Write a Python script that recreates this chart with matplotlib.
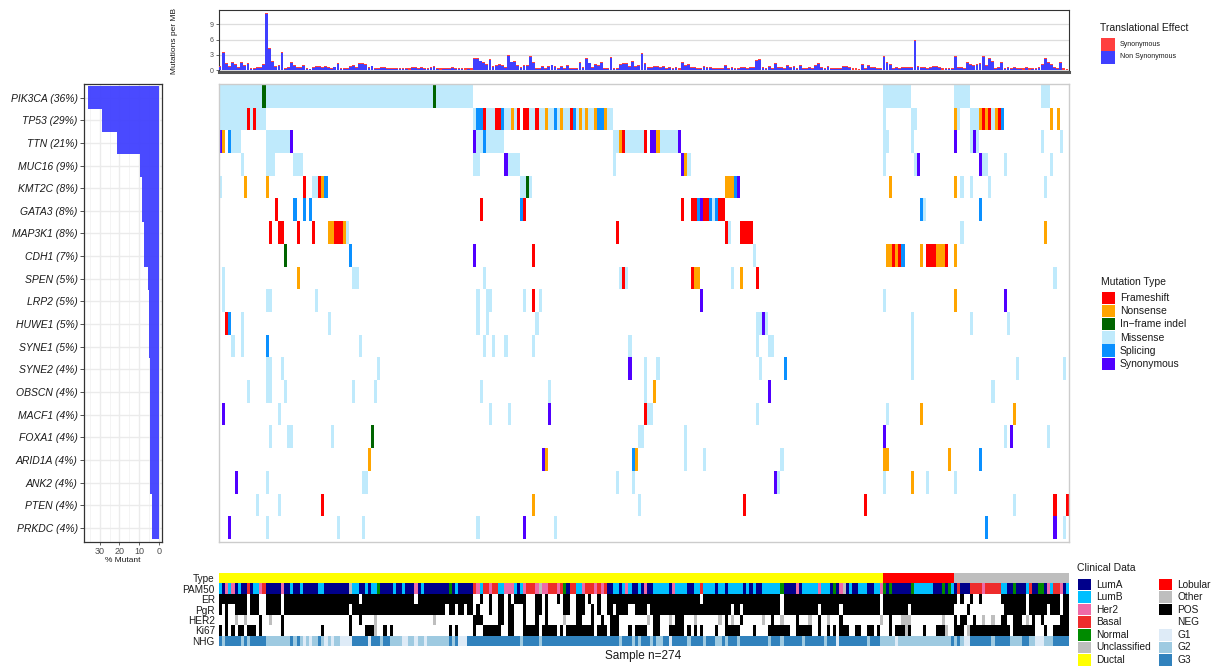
import numpy as np
import matplotlib
matplotlib.use("Agg")
import matplotlib.pyplot as plt
from matplotlib.patches import Rectangle
from matplotlib.colors import to_rgb

plt.rcParams['font.family'] = ['Liberation Sans', 'DejaVu Sans']

W, H = 1220, 668
NS = 274

#----------------------------------------------------------------------------
# gene panel
genes = ["PIK3CA", "TP53", "TTN", "MUC16", "KMT2C", "GATA3", "MAP3K1", "CDH1",
         "SPEN", "LRP2", "HUWE1", "SYNE1", "SYNE2", "OBSCN", "MACF1", "FOXA1",
         "ARID1A", "ANK2", "PTEN", "PRKDC"]
gene_pct_label = [36, 29, 21, 9, 8, 8, 8, 7, 5, 5, 5, 5, 4, 4, 4, 4, 4, 4, 4, 4]
gene_pct = [36.0, 29.0, 21.0, 9.6, 8.6, 8.6, 7.7, 7.6, 5.6, 5.2, 5.1, 5.1,
            4.6, 4.6, 4.6, 4.6, 4.6, 4.6, 3.7, 3.7]

mut_types = ["Frameshift", "Nonsense", "In-frame indel", "Missense", "Splicing", "Synonymous"]
mut_codes = ["F", "N", "I", "M", "S", "Y"]
mut_colors = ["#FF0000", "#FFA500", "#006400", "#BFEAFC", "#0A90FF", "#5000FF"]

# (first sample, last sample, type code)
mutations = {
    "PIK3CA": [(0, 81, "M"), (14, 14, "I"), (69, 69, "I"), (214, 222, "M"), (237, 241, "M"), (265, 267, "M")],
    "TP53": [(0, 14, "M"), (9, 9, "F"), (11, 11, "F"), (82, 82, "M"), (83, 84, "S"), (85, 85, "F"),
             (86, 88, "M"), (89, 90, "F"), (91, 91, "S"), (92, 93, "M"), (94, 94, "N"), (95, 95, "M"),
             (96, 96, "F"), (98, 99, "F"), (100, 101, "M"), (102, 102, "F"), (103, 104, "M"),
             (105, 105, "N"), (106, 107, "M"), (108, 108, "S"), (109, 109, "M"), (110, 110, "N"),
             (111, 112, "M"), (113, 113, "F"), (114, 114, "S"), (115, 115, "M"), (116, 116, "N"),
             (117, 117, "M"), (118, 118, "N"), (119, 120, "M"), (121, 121, "N"), (122, 123, "S"),
             (124, 124, "N"), (125, 126, "M"), (214, 214, "M"), (223, 224, "M"), (237, 237, "N"),
             (238, 238, "M"), (242, 244, "M"), (245, 245, "N"), (246, 246, "F"), (247, 247, "N"),
             (248, 248, "F"), (249, 249, "M"), (250, 250, "N"), (251, 251, "F"), (252, 252, "S"),
             (268, 268, "N"), (270, 270, "N")],
    "TTN": [(0, 0, "Y"), (1, 1, "N"), (3, 3, "S"), (4, 6, "M"), (15, 22, "M"), (23, 23, "Y"),
            (82, 82, "Y"), (83, 84, "M"), (85, 85, "S"), (86, 91, "M"), (127, 128, "M"), (129, 129, "N"),
            (130, 130, "F"), (131, 136, "M"), (137, 137, "F"), (139, 140, "Y"), (141, 141, "N"),
            (142, 147, "M"), (148, 148, "Y"), (214, 215, "M"), (223, 223, "M"), (237, 237, "Y"),
            (242, 242, "M"), (243, 243, "Y"), (244, 244, "M"), (265, 265, "M"), (271, 271, "M")],
    "MUC16": [(7, 7, "M"), (15, 17, "M"), (24, 26, "M"), (82, 83, "M"), (92, 92, "Y"), (93, 96, "M"),
              (127, 127, "M"), (149, 149, "Y"), (150, 150, "N"), (151, 151, "M"), (214, 214, "M"),
              (224, 224, "M"), (225, 225, "Y"), (245, 245, "Y"), (246, 247, "M"), (253, 253, "M"),
              (268, 268, "M")],
    "KMT2C": [(0, 0, "M"), (8, 8, "N"), (15, 15, "N"), (27, 27, "F"), (30, 31, "M"), (32, 32, "F"),
              (33, 33, "N"), (34, 34, "S"), (97, 98, "M"), (99, 99, "I"), (100, 100, "M"),
              (163, 165, "N"), (166, 166, "S"), (167, 167, "Y"), (216, 216, "N"), (237, 237, "N"),
              (239, 239, "M"), (242, 242, "M"), (248, 248, "M"), (266, 266, "M")],
    "GATA3": [(18, 18, "F"), (24, 24, "S"), (27, 27, "S"), (29, 29, "S"), (84, 84, "F"), (97, 97, "S"),
              (98, 98, "F"), (149, 149, "F"), (152, 153, "F"), (154, 154, "S"), (155, 155, "Y"),
              (156, 157, "F"), (158, 158, "S"), (159, 159, "M"), (160, 160, "S"), (161, 162, "F"),
              (226, 226, "S"), (227, 227, "M"), (245, 245, "S")],
    "MAP3K1": [(16, 16, "F"), (19, 20, "F"), (25, 25, "F"), (30, 30, "F"), (35, 36, "N"), (37, 39, "F"),
               (40, 40, "N"), (41, 41, "M"), (128, 128, "F"), (163, 163, "F"), (164, 164, "M"),
               (168, 171, "F"), (239, 239, "M"), (266, 266, "N")],
    "CDH1": [(21, 21, "I"), (42, 42, "S"), (82, 82, "Y"), (101, 101, "F"), (172, 172, "M"),
             (215, 216, "N"), (217, 217, "F"), (218, 218, "N"), (219, 219, "F"), (220, 220, "S"),
             (226, 226, "N"), (228, 230, "F"), (231, 233, "N"), (234, 234, "F"), (237, 237, "N")],
    "SPEN": [(1, 1, "M"), (25, 25, "N"), (43, 44, "M"), (85, 85, "M"), (129, 129, "M"), (130, 130, "F"),
             (131, 131, "M"), (152, 152, "F"), (153, 154, "N"), (165, 165, "M"), (168, 168, "N"),
             (173, 173, "F"), (269, 269, "M")],
    "LRP2": [(1, 1, "M"), (15, 16, "M"), (31, 31, "M"), (83, 83, "M"), (86, 87, "M"), (98, 98, "M"),
             (101, 101, "F"), (103, 103, "M"), (155, 155, "Y"), (214, 214, "M"), (237, 237, "N"),
             (253, 253, "Y")],
    "HUWE1": [(2, 2, "F"), (3, 3, "S"), (7, 7, "M"), (35, 35, "M"), (83, 83, "M"), (86, 86, "M"),
              (102, 102, "M"), (173, 174, "M"), (175, 175, "Y"), (176, 176, "M"), (223, 223, "M"),
              (242, 242, "M"), (254, 254, "M")],
    "SYNE1": [(4, 4, "M"), (7, 7, "M"), (15, 15, "S"), (45, 45, "M"), (85, 85, "M"), (88, 88, "M"),
              (92, 92, "M"), (101, 101, "M"), (132, 132, "M"), (173, 173, "M"), (177, 178, "M"),
              (223, 223, "M")],
    "SYNE2": [(15, 16, "M"), (20, 20, "M"), (51, 51, "M"), (132, 132, "Y"), (137, 137, "M"),
              (141, 141, "M"), (174, 174, "M"), (182, 182, "S"), (223, 223, "M"), (257, 257, "M"),
              (272, 272, "M")],
    "OBSCN": [(9, 9, "M"), (15, 16, "M"), (21, 21, "M"), (43, 43, "M"), (50, 50, "M"), (84, 84, "M"),
              (106, 106, "M"), (137, 137, "M"), (140, 140, "N"), (177, 177, "Y"), (249, 249, "M")],
    "MACF1": [(1, 1, "Y"), (19, 19, "M"), (87, 87, "M"), (93, 93, "M"), (106, 106, "Y"), (137, 137, "F"),
              (138, 139, "M"), (173, 173, "M"), (215, 215, "M"), (226, 226, "N"), (256, 256, "N")],
    "FOXA1": [(16, 16, "M"), (22, 23, "M"), (36, 36, "M"), (49, 49, "I"), (135, 136, "M"),
              (150, 150, "M"), (214, 214, "Y"), (253, 253, "M"), (255, 255, "Y"), (267, 267, "M")],
    "ARID1A": [(48, 48, "N"), (104, 104, "Y"), (105, 105, "N"), (133, 133, "S"), (134, 134, "N"),
               (150, 150, "M"), (156, 156, "M"), (181, 181, "M"), (214, 215, "N"), (235, 235, "N"),
               (245, 245, "S")],
    "ANK2": [(5, 5, "Y"), (15, 15, "M"), (46, 47, "M"), (128, 128, "M"), (133, 133, "M"),
             (179, 179, "Y"), (180, 180, "M"), (214, 214, "M"), (223, 223, "N"), (228, 228, "M"),
             (237, 237, "M")],
    "PTEN": [(12, 12, "M"), (19, 19, "M"), (33, 33, "F"), (101, 101, "N"), (135, 135, "M"),
             (169, 169, "F"), (208, 208, "F"), (256, 256, "M"), (269, 269, "F"), (273, 273, "F")],
    "PRKDC": [(3, 3, "Y"), (15, 15, "M"), (38, 38, "M"), (46, 46, "M"), (83, 83, "M"), (98, 98, "Y"),
              (108, 108, "M"), (247, 247, "S"), (269, 269, "Y"), (272, 272, "M")],
}

#----------------------------------------------------------------------------
# mutation burden per sample (mutations per MB)
nonsyn = [0.7, 3.3, 1.2, 0.7, 1.4, 1.0, 0.5, 1.4, 0.9, 1.2,
          0.2, 0.2, 0.4, 0.4, 1.0, 11.0, 4.1, 1.6, 0.7, 0.8,
          3.4, 0.3, 0.4, 1.4, 0.9, 0.4, 0.4, 0.8, 0.3, 0.2,
          0.4, 0.6, 0.6, 0.4, 0.6, 0.4, 0.3, 0.6, 1.2, 0.3,
          0.3, 0.3, 0.7, 0.8, 0.5, 1.2, 1.2, 1.0, 0.4, 0.8,
          0.3, 0.3, 0.5, 0.5, 0.3, 0.3, 0.3, 0.2, 0.2, 0.3,
          0.2, 0.1, 0.5, 0.5, 0.3, 0.5, 0.2, 0.2, 0.4, 0.6,
          0.2, 0.1, 0.3, 0.3, 0.2, 0.4, 0.3, 0.3, 0.2, 0.1,
          0.2, 0.1, 2.2, 2.2, 1.8, 1.4, 1.0, 2.0, 0.7, 0.9,
          1.0, 0.9, 0.5, 2.8, 1.6, 1.6, 0.9, 0.5, 0.9, 0.9,
          2.6, 1.4, 0.3, 0.3, 0.6, 0.3, 0.7, 1.0, 0.6, 0.3,
          0.7, 0.2, 0.9, 0.2, 0.2, 0.2, 1.4, 0.5, 2.1, 1.4,
          0.5, 1.0, 0.8, 1.4, 0.2, 0.2, 2.4, 0.2, 0.3, 1.1,
          1.2, 1.2, 0.6, 1.7, 0.6, 0.8, 3.1, 1.2, 0.5, 0.5,
          0.6, 0.6, 0.4, 0.6, 0.3, 0.5, 0.2, 0.5, 0.1, 1.4,
          0.8, 1.0, 0.4, 0.4, 0.3, 0.2, 0.7, 0.5, 0.4, 0.3,
          0.3, 0.2, 0.2, 0.8, 0.3, 0.5, 0.3, 0.2, 0.5, 0.4,
          0.3, 0.5, 0.4, 1.8, 2.0, 0.5, 0.2, 0.7, 0.3, 1.2,
          0.5, 0.5, 0.2, 0.8, 0.4, 0.6, 0.3, 0.8, 0.3, 0.2,
          0.4, 0.3, 0.8, 1.3, 0.4, 0.2, 0.6, 0.3, 0.2, 0.2,
          0.3, 0.6, 0.6, 0.5, 0.1, 0.1, 0.0, 1.1, 0.3, 0.9,
          0.4, 0.4, 0.2, 0.2, 2.6, 1.5, 1.1, 0.3, 0.5, 0.3,
          0.5, 0.5, 0.4, 0.4, 5.8, 0.7, 0.5, 0.4, 0.2, 0.5,
          0.6, 0.6, 0.4, 0.1, 0.3, 0.2, 0.2, 2.6, 0.4, 0.4,
          0.2, 1.4, 1.0, 0.8, 1.0, 1.3, 2.6, 0.8, 2.1, 1.6,
          0.3, 0.4, 1.5, 0.2, 0.4, 0.2, 0.5, 0.2, 0.2, 0.1,
          0.4, 0.1, 0.2, 0.3, 0.5, 1.0, 2.1, 1.4, 1.0, 0.4,
          0.3, 1.5, 0.1, 0.0]
syn = [0.2, 0.2, 0.2, 0.1, 0.2, 0.2, 0.2, 0.2, 0.1, 0.2,
       0.2, 0.2, 0.2, 0.2, 0.2, 0.2, 0.2, 0.2, 0.1, 0.2,
       0.2, 0.1, 0.2, 0.2, 0.2, 0.2, 0.2, 0.2, 0.2, 0.1,
       0.2, 0.2, 0.2, 0.2, 0.2, 0.2, 0.2, 0.1, 0.2, 0.2,
       0.2, 0.2, 0.1, 0.2, 0.2, 0.2, 0.2, 0.2, 0.2, 0.1,
       0.2, 0.2, 0.2, 0.2, 0.2, 0.2, 0.2, 0.3, 0.3, 0.2,
       0.3, 0.3, 0.2, 0.2, 0.2, 0.2, 0.3, 0.3, 0.2, 0.2,
       0.3, 0.3, 0.2, 0.2, 0.3, 0.2, 0.2, 0.2, 0.3, 0.3,
       0.3, 0.3, 0.2, 0.2, 0.1, 0.2, 0.2, 0.1, 0.2, 0.2,
       0.2, 0.2, 0.2, 0.2, 0.1, 0.2, 0.2, 0.2, 0.2, 0.1,
       0.2, 0.2, 0.2, 0.2, 0.2, 0.2, 0.2, 0.1, 0.2, 0.2,
       0.2, 0.3, 0.2, 0.3, 0.3, 0.2, 0.2, 0.2, 0.2, 0.1,
       0.2, 0.2, 0.2, 0.2, 0.3, 0.3, 0.2, 0.3, 0.2, 0.2,
       0.2, 0.2, 0.2, 0.2, 0.2, 0.2, 0.2, 0.2, 0.2, 0.2,
       0.2, 0.2, 0.2, 0.2, 0.2, 0.2, 0.3, 0.2, 0.3, 0.2,
       0.2, 0.2, 0.2, 0.2, 0.2, 0.3, 0.2, 0.2, 0.2, 0.2,
       0.2, 0.3, 0.3, 0.2, 0.2, 0.2, 0.2, 0.3, 0.2, 0.2,
       0.2, 0.2, 0.2, 0.2, 0.2, 0.2, 0.3, 0.2, 0.2, 0.2,
       0.2, 0.2, 0.3, 0.2, 0.2, 0.2, 0.2, 0.2, 0.2, 0.3,
       0.2, 0.2, 0.2, 0.2, 0.2, 0.3, 0.2, 0.2, 0.3, 0.3,
       0.2, 0.2, 0.2, 0.2, 0.3, 0.3, 0.3, 0.2, 0.2, 0.2,
       0.2, 0.2, 0.3, 0.3, 0.2, 0.2, 0.2, 0.2, 0.2, 0.2,
       0.2, 0.2, 0.2, 0.2, 0.2, 0.2, 0.2, 0.2, 0.3, 0.2,
       0.2, 0.2, 0.2, 0.3, 0.2, 0.3, 0.3, 0.2, 0.2, 0.2,
       0.3, 0.2, 0.2, 0.2, 0.2, 0.2, 0.2, 0.2, 0.2, 0.2,
       0.2, 0.2, 0.2, 0.3, 0.2, 0.3, 0.2, 0.3, 0.3, 0.3,
       0.2, 0.3, 0.3, 0.2, 0.2, 0.2, 0.2, 0.2, 0.2, 0.2,
       0.2, 0.2, 0.3, 0.3]

#----------------------------------------------------------------------------
# clinical tracks, run lengths in sample order
type_runs = [("Ductal", 214), ("Lobular", 23), ("Other", 37)]
pam50_runs = [
    ("LumB", 1), ("LumA", 1), ("Her2", 1), ("LumB", 1), ("Her2", 1), ("LumA", 1), ("LumB", 1), ("LumA", 2), ("Basal", 1), ("LumA", 1),
    ("LumB", 2), ("Her2", 1), ("Basal", 1), ("LumA", 5), ("Her2", 1), ("LumA", 2), ("LumB", 1), ("LumA", 2), ("LumB", 1), ("LumA", 5),
    ("LumB", 2), ("LumA", 8), ("Unclassified", 1), ("LumB", 2), ("LumA", 2), ("LumB", 1), ("LumA", 1), ("LumB", 2), ("Normal", 1), ("LumA", 4),
    ("LumB", 1), ("LumA", 2), ("LumB", 1), ("LumA", 3), ("Her2", 1), ("LumA", 1), ("LumB", 1), ("LumA", 8), ("Normal", 1), ("LumA", 1),
    ("LumB", 1), ("LumA", 5), ("Basal", 1), ("Her2", 1), ("LumB", 1), ("Basal", 2), ("Her2", 1), ("Basal", 2), ("LumB", 2), ("Her2", 3),
    ("LumB", 1), ("LumA", 1), ("LumB", 1), ("Her2", 1), ("Basal", 3), ("Her2", 1), ("Unclassified", 1), ("Her2", 2), ("Basal", 3), ("Her2", 1),
    ("Basal", 1), ("Normal", 1), ("LumA", 1), ("Basal", 2), ("LumB", 2), ("Her2", 1), ("Basal", 3), ("Her2", 1), ("Basal", 1), ("Her2", 1),
    ("Basal", 1), ("LumA", 2), ("LumB", 2), ("LumA", 1), ("LumB", 1), ("Her2", 1), ("LumB", 1), ("LumA", 2), ("LumB", 1), ("LumA", 1),
    ("Her2", 1), ("LumA", 2), ("LumB", 5), ("LumA", 1), ("Her2", 1), ("LumB", 2),
    ("LumB", 2), ("LumA", 2), ("LumB", 2), ("Basal", 1), ("LumB", 4), ("LumA", 1), ("LumB", 2), ("LumA", 1), ("LumB", 5), ("LumA", 1),
    ("LumB", 1), ("LumA", 1), ("LumB", 1), ("LumA", 2), ("LumB", 6), ("Normal", 1), ("LumA", 4), ("Her2", 1), ("LumA", 1), ("LumB", 5),
    ("Her2", 1), ("LumB", 3), ("LumA", 1), ("Normal", 1), ("LumA", 1), ("Her2", 1), ("Unclassified", 1), ("LumA", 1), ("LumB", 1), ("LumA", 2),
    ("LumB", 3), ("LumA", 2), ("LumB", 2), ("Her2", 1), ("Normal", 1), ("LumA", 1), ("Normal", 1), ("LumA", 6), ("Normal", 1), ("LumB", 6),
    ("LumA", 3), ("Normal", 1), ("LumA", 1), ("Normal", 1), ("LumB", 1), ("LumA", 1), ("Basal", 1), ("LumA", 3), ("Basal", 4), ("Her2", 1),
    ("Basal", 5), ("LumB", 2), ("LumA", 2), ("Normal", 1), ("LumA", 3), ("LumB", 1), ("Basal", 1), ("LumA", 2), ("Normal", 2), ("LumA", 1),
    ("Her2", 1), ("LumB", 1), ("Basal", 2), ("Her2", 1), ("LumA", 1), ("LumB", 1)]
er_runs = [
    ("POS", 9), ("NEG", 1), ("POS", 3), ("NEG", 2), ("POS", 5), ("NEG", 1), ("POS", 24), ("NEG", 1), ("POS", 17), ("NEG", 1),
    ("POS", 18), ("NEG", 2), ("POS", 1), ("NEG", 2), ("POS", 1), ("NEG", 2), ("POS", 2), ("NEG", 1), ("POS", 1), ("NEG", 1),
    ("POS", 4), ("NEG", 3), ("POS", 2), ("NEG", 1), ("POS", 1), ("NEG", 3), ("POS", 1), ("NEG", 1), ("POS", 2), ("NEG", 2),
    ("POS", 3), ("NEG", 1), ("POS", 1), ("NEG", 2), ("POS", 1), ("NEG", 2), ("POS", 30), ("NEG", 1), ("POS", 25), ("NEG", 1),
    ("POS", 31), ("NEG", 1), ("POS", 24), ("NEG", 1), ("POS", 1), ("NEG", 2), ("POS", 1), ("NEG", 2), ("POS", 1), ("NEG", 6),
    ("POS", 8), ("NEG", 1), ("POS", 10), ("NEG", 1), ("POS", 2)]
pgr_runs = [
    ("POS", 1), ("NEG", 1), ("POS", 1), ("NEG", 2), ("POS", 4), ("NEG", 1), ("POS", 3), ("NEG", 2), ("POS", 5), ("NEG", 1),
    ("POS", 21), ("NEG", 1), ("POS", 30), ("NEG", 1), ("POS", 2), ("NEG", 1), ("POS", 2), ("NEG", 1), ("POS", 2), ("NEG", 1),
    ("POS", 1), ("NEG", 3), ("POS", 1), ("NEG", 2), ("POS", 2), ("NEG", 1), ("POS", 2), ("NEG", 3), ("POS", 1), ("NEG", 3),
    ("POS", 2), ("NEG", 1), ("POS", 1), ("NEG", 5), ("POS", 2), ("NEG", 2), ("POS", 3), ("NEG", 2), ("POS", 1), ("NEG", 1),
    ("POS", 1), ("NEG", 2), ("POS", 2), ("NEG", 1), ("POS", 4), ("NEG", 2), ("POS", 4), ("NEG", 1), ("POS", 26), ("NEG", 1),
    ("POS", 2), ("NEG", 1), ("POS", 12), ("NEG", 1), ("POS", 11), ("NEG", 1), ("POS", 6), ("NEG", 1), ("POS", 12), ("NEG", 1),
    ("POS", 8), ("NEG", 1), ("POS", 14), ("NEG", 4), ("POS", 1), ("NEG", 11), ("POS", 7), ("NEG", 1), ("POS", 6), ("NEG", 1),
    ("POS", 3), ("NEG", 1), ("POS", 2)]
her2_pos = [2, 13, 20, 42, 45, 82, 83, 84, 90, 91, 93, 94, 98, 102, 105, 115, 116, 120, 123, 126, 127, 128,
            140, 141, 147, 148, 149, 163, 168, 178, 186, 193, 200, 216, 237, 239, 240, 243, 252, 253, 256,
            257, 258, 262, 265, 271, 272, 273]
her2_na = [5, 8, 16, 50, 69, 111, 138, 145, 153, 161, 165, 175, 181, 190, 196, 213, 220, 221, 222, 233, 246, 249, 260]
ki67_pos = [0, 2, 4, 6, 7, 9, 10, 11, 13, 20, 33, 42, 47, 48, 49, 53, 55, 74, 76, 82, 85, 86, 87, 88, 89, 90,
            93, 94, 98, 99, 100, 101, 102, 104, 105, 106, 107, 108, 110, 112, 113, 114, 115, 116, 117, 118,
            119, 120, 122, 123, 124, 126, 127, 128, 132, 134, 135, 136, 137, 140, 141, 145, 146, 147, 148,
            149, 151, 153, 155, 160, 163, 164, 165, 166, 167, 172, 177, 178, 179, 180, 181, 182, 183, 186,
            187, 188, 189, 190, 193, 196, 198, 200, 201, 202, 205, 206, 209, 210, 212, 216, 218, 219, 220,
            222, 227, 231, 232, 233, 237, 238, 239, 242, 243, 244, 245, 246, 247, 248, 249, 250, 251, 252,
            253, 254, 256, 257, 258, 259, 260, 261, 262, 266, 269, 270, 271, 272, 273]
ki67_na = [50, 221, 234, 241]
nhg_runs = [
    ("G3", 1), ("G2", 1), ("G3", 5), ("G2", 1), ("G3", 1), ("G2", 1), ("G3", 5), ("G2", 8), ("G3", 1), ("G2", 1),
    ("G3", 1), ("G2", 1), ("G1", 1), ("G2", 1), ("G1", 1), ("G2", 2), ("G3", 1), ("G2", 1), ("G1", 1), ("G2", 1),
    ("G1", 1), ("G2", 2), ("G1", 4), ("G3", 5), ("G1", 1), ("G3", 3), ("G2", 1), ("G3", 2), ("G2", 4), ("G1", 2),
    ("G2", 2), ("G1", 1), ("G2", 2), ("G1", 1), ("G2", 7), ("G3", 1), ("G2", 1), ("G3", 1), ("G1", 3), ("G3", 17),
    ("G2", 1), ("G3", 5), ("G2", 1), ("G3", 25), ("G2", 1), ("G3", 3), ("G2", 1), ("G3", 1), ("G2", 1), ("G3", 3),
    ("G2", 1), ("G3", 1), ("G2", 2), ("G3", 2), ("G1", 1), ("G3", 5), ("G2", 1), ("G3", 4), ("G2", 1), ("G3", 3),
    ("G2", 2), ("G3", 1), ("G2", 1), ("G3", 3), ("G2", 1), ("G3", 9), ("G2", 1), ("G3", 3), ("G2", 1), ("G3", 6),
    ("G2", 1), ("G3", 6), ("G2", 1), ("G3", 3), ("G1", 1), ("G3", 9), ("G2", 1), ("G3", 3), ("G2", 5), ("G1", 1),
    ("G2", 17), ("G3", 1), ("G2", 1), ("G3", 1), ("G2", 1), ("G1", 2), ("G3", 7), ("G2", 1), ("G3", 5), ("G2", 4),
    ("G3", 2), ("G2", 2), ("G1", 3), ("G2", 3), ("G3", 5)]

track_names = ["Type", "PAM50", "ER", "PgR", "HER2", "Ki67", "NHG"]
clin_colors = {"LumA": "#00008B", "LumB": "#00BFFF", "Her2": "#EE6AA7", "Basal": "#EE2C2C",
               "Normal": "#008B00", "Unclassified": "#BEBEBE", "Ductal": "#FFFF00",
               "Lobular": "#FF0000", "Other": "#BEBEBE", "POS": "#000000", "NEG": "#FFFFFF",
               "G1": "#DEEBF7", "G2": "#9ECAE1", "G3": "#3182BD", "NA": "#BEBEBE"}
clin_legend_1 = ["LumA", "LumB", "Her2", "Basal", "Normal", "Unclassified", "Ductal"]
clin_legend_2 = ["Lobular", "Other", "POS", "NEG", "G1", "G2", "G3"]


#----------------------------------------------------------------------------
def expand(runs):
    out = []
    for lab, n in runs:
        out += [lab] * n
    out = out + [out[-1]] * NS
    return out[:NS]


def from_lists(pos, na):
    out = ["NEG"] * NS
    for i in pos:
        out[i] = "POS"
    for i in na:
        out[i] = "NA"
    return out


def px_axes(fig, left, top, right, bottom):
    return fig.add_axes([left / W, 1 - bottom / H, (right - left) / W, (bottom - top) / H])


def fbox(fig, x0, y0, x1, y1, color):
    fig.add_artist(Rectangle((x0 / W, 1 - y1 / H), (x1 - x0) / W, (y1 - y0) / H,
                             transform=fig.transFigure, facecolor=color, edgecolor='none', lw=0))


def ftext(fig, x, y, s, **kw):
    fig.text(x / W, 1 - y / H, s, va='center', **kw)


fig = plt.figure(figsize=(W / 100, H / 100), dpi=100)
fig.patch.set_facecolor('white')

GL, GR = 218.5, 1068.5
tc = '#4D4D4D'

# ---- top: mutation burden
axt = px_axes(fig, GL, 10, GR, 72)
xs = np.arange(NS) + 0.5
axt.bar(xs, nonsyn, width=0.9, color='#3F3FFF', linewidth=0, zorder=3)
axt.bar(xs, syn, bottom=nonsyn, width=0.9, color='#FF3F3F', linewidth=0, zorder=3)
axt.set_xlim(0, NS)
axt.set_ylim(-0.35, 11.8)
axt.set_yticks([0, 3, 6, 9])
axt.set_xticks([])
axt.tick_params(axis='y', labelsize=5, colors=tc, length=2, pad=1.5, width=0.6)
axt.grid(axis='y', color='#DDDDDD', lw=0.9, zorder=0)
for s in ['left', 'top', 'right']:
    axt.spines[s].set_color('#333333')
    axt.spines[s].set_linewidth(0.8)
axt.spines['bottom'].set_color('#555555')
axt.spines['bottom'].set_linewidth(2.2)
fig.text(175 / W, 1 - 41 / H, "Mutations per MB", rotation=90, fontsize=6,
         ha='center', va='center', color='#1A1A1A')

# ---- main waterfall grid
grid = np.ones((len(genes), NS, 3))
for gi, g in enumerate(genes):
    for a, b, t in mutations[g]:
        grid[gi, a:b + 1] = to_rgb(mut_colors[mut_codes.index(t)])
axg = px_axes(fig, GL, 84, GR, 542)
axg.imshow(grid, extent=(0, NS, len(genes), 0), aspect='auto', interpolation='nearest')
axg.set_xlim(0, NS)
axg.set_ylim(len(genes) + 0.12, -0.1)
axg.set_xticks([])
axg.set_yticks([])
for s in axg.spines.values():
    s.set_color('#CCCCCC')
    s.set_linewidth(1.0)

# ---- left: percent mutant per gene
axl = px_axes(fig, 84, 84, 162, 542)
ypos = np.arange(len(genes)) + 0.5
axl.barh(ypos, gene_pct, height=1.0, color='#4040FF', alpha=0.95, linewidth=0, zorder=3)
axl.set_xlim(38, -1.6)
axl.set_ylim(len(genes) + 0.12, -0.1)
axl.set_xticks([30, 20, 10, 0])
axl.set_xticks([35, 25, 15, 5], minor=True)
axl.set_yticks(ypos)
axl.set_yticklabels(["%s (%d%%)" % (g, p) for g, p in zip(genes, gene_pct_label)],
                    fontsize=7.5, style='italic', color='#1A1A1A')
axl.tick_params(axis='y', length=3, width=0.6, pad=1.5, colors='#333333')
axl.tick_params(axis='y', labelcolor='#1A1A1A')
axl.tick_params(axis='x', which='major', labelsize=6.5, colors=tc, length=2, width=0.6, pad=1.5)
axl.tick_params(axis='x', which='minor', length=0)
axl.grid(axis='x', which='major', color='#EBEBEB', lw=1.0, zorder=0)
axl.grid(axis='x', which='minor', color='#F2F2F2', lw=0.6, zorder=0)
axl.grid(axis='y', color='#EBEBEB', lw=1.0, zorder=0)
for s in axl.spines.values():
    s.set_color('#333333')
    s.set_linewidth(0.9)
axl.set_xlabel("% Mutant", fontsize=6, color='#1A1A1A', labelpad=0.5)

# ---- clinical tracks
tracks = [expand(type_runs), expand(pam50_runs), expand(er_runs), expand(pgr_runs),
          from_lists(her2_pos, her2_na), from_lists(ki67_pos, ki67_na), expand(nhg_runs)]
clin = np.array([[to_rgb(clin_colors[v]) for v in row] for row in tracks])
axc = px_axes(fig, GL + 0.5, 573, GR + 0.5, 646)
axc.imshow(clin, extent=(0, NS, len(tracks), 0), aspect='auto', interpolation='nearest')
axc.set_xlim(0, NS)
axc.set_ylim(len(tracks), 0)
axc.set_xticks([])
axc.set_yticks(np.arange(len(tracks)) + 0.5)
axc.set_yticklabels(track_names, fontsize=7.2, color='#1A1A1A')
axc.tick_params(axis='y', length=0, pad=3)
for s in axc.spines.values():
    s.set_visible(False)
ftext(fig, 643, 656, "Sample n=274", fontsize=8.5, ha='center', color='#1A1A1A')

# ---- legends
ftext(fig, 1100, 28, "Translational Effect", fontsize=7.5, ha='left', color='#1A1A1A')
fbox(fig, 1101, 38, 1115, 50.5, '#FF3F3F')
fbox(fig, 1101, 50.5, 1115, 64, '#3F3FFF')
ftext(fig, 1120, 44, "Synonymous", fontsize=5, ha='left', color='#1A1A1A')
ftext(fig, 1120, 57, "Non Synonymous", fontsize=5, ha='left', color='#1A1A1A')

ftext(fig, 1101, 282, "Mutation Type", fontsize=7.5, ha='left', color='#1A1A1A')
for k, (lab, col) in enumerate(zip(mut_types, mut_colors)):
    y0 = 291.5 + k * 13.2
    fbox(fig, 1102, y0, 1115, y0 + 12.4, col)
    ftext(fig, 1120, y0 + 6.4, lab.replace("-", "\u2212"), fontsize=7.5, ha='left', color='#1A1A1A')

# clinical legend, packed a little tighter so the last row stays inside the canvas
ftext(fig, 1077, 568, "Clinical Data", fontsize=7.5, ha='left', color='#1A1A1A')
for k in range(len(clin_legend_1)):
    y0 = 578.5 + k * 12.6
    fbox(fig, 1078, y0, 1091, y0 + 11.6, clin_colors[clin_legend_1[k]])
    ftext(fig, 1096, y0 + 6.0, clin_legend_1[k], fontsize=7.3, ha='left', color='#1A1A1A')
    fbox(fig, 1159, y0, 1172, y0 + 11.6, clin_colors[clin_legend_2[k]])
    ftext(fig, 1177, y0 + 6.0, clin_legend_2[k], fontsize=7.3, ha='left', color='#1A1A1A')

fig.savefig("out.png", dpi=100, facecolor='white')
